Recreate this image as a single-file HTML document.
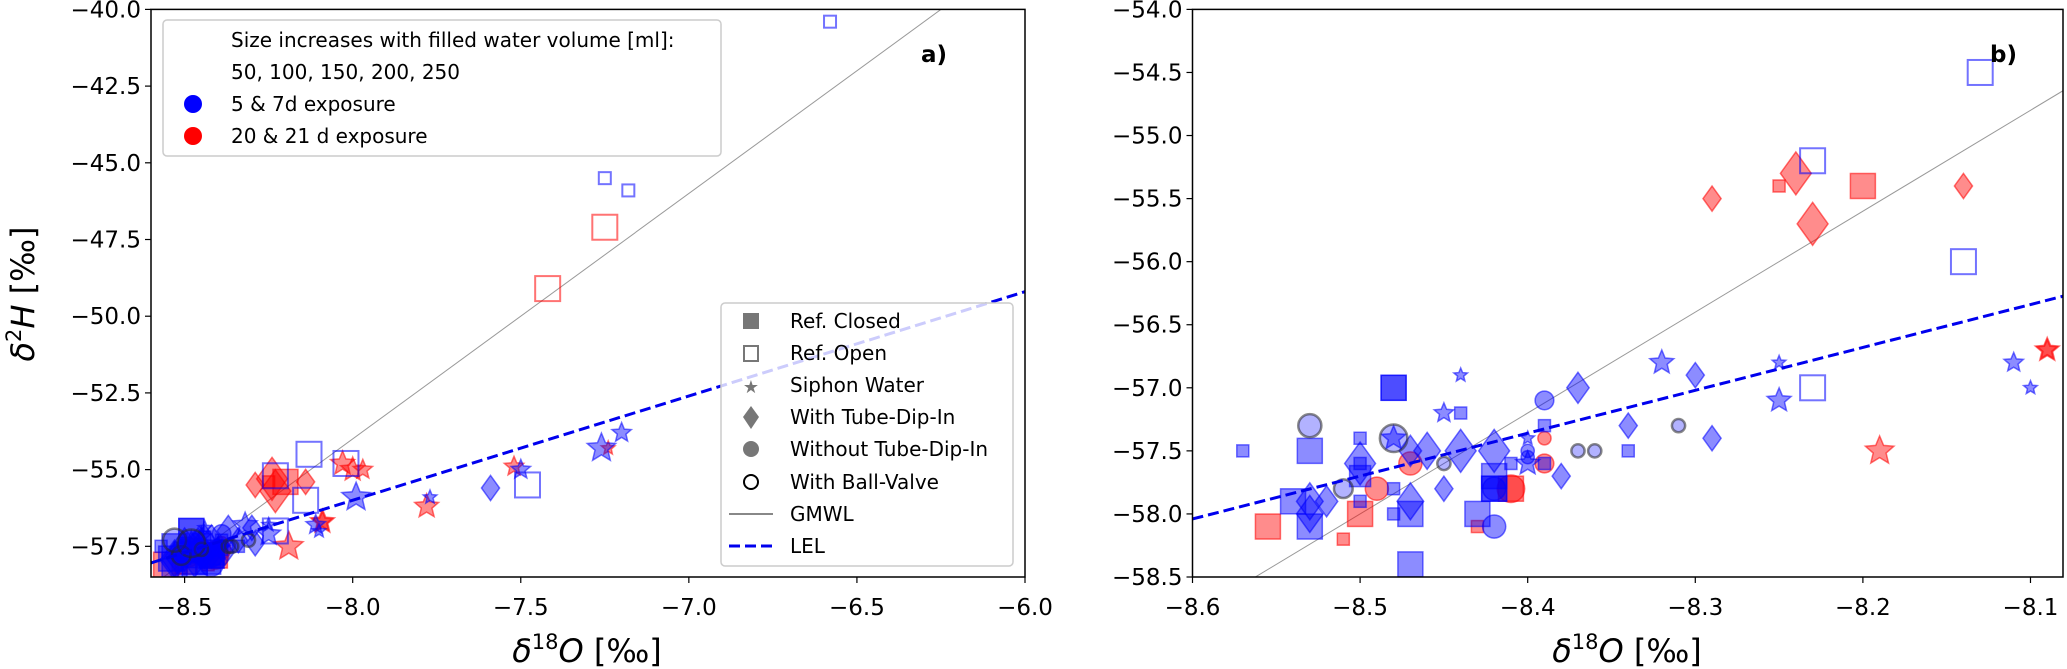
<!DOCTYPE html>
<html><head><meta charset="utf-8"><style>
html,body{margin:0;padding:0;background:#fff;}
svg{display:block;font-family:"DejaVu Sans","Liberation Sans",sans-serif;}
</style></head><body>
<svg id="chart" width="2067" height="669" viewBox="0 0 2067 669" xmlns="http://www.w3.org/2000/svg">
<defs>
<clipPath id="clipA"><rect x="151" y="9.4" width="874" height="567.6"/></clipPath>
<clipPath id="clipB"><rect x="1192.5" y="9.4" width="870.5" height="567.6"/></clipPath>
</defs>
<g id="panelA"></g>
<g id="panelB"></g>
</svg>
<script>
const ptX = [-8.24,-8.23,-8.29,-8.14,
 -8.25,-8.20,-8.555,-8.50,-8.51,-8.43,-8.41,
 -8.19,-8.09,-7.24,-7.52,-7.78,-8.03,-8.00,-7.97,-8.09,
 -8.47,-8.39,-8.39,-8.49,-8.41,
 -7.25,-7.42,
 -8.48,-8.48,-8.53,-8.57,-8.50,-8.44,-8.39,-8.34,-8.41,-8.47,-8.53,-8.54,-8.50,-8.47,-8.43,-8.42,-8.42,-8.42,-8.48,-8.50,-8.48,-8.50,-8.39,
 -8.13,-8.23,-8.14,-8.23,-6.58,-7.25,-7.18,-7.48,-8.02,
 -8.44,-8.45,-8.32,-8.25,-8.25,-8.11,-8.10,-8.48,-8.40,-8.40,-7.26,-7.20,-7.50,-7.77,-7.99,
 -8.37,-8.30,-8.34,-8.29,-8.38,-8.45,-8.44,-8.42,-8.46,-8.50,-8.47,-8.53,-8.52,-8.53,-8.47,-7.59,
 -8.39,-8.42,-8.42,-8.40,-8.40,
 -8.31,-8.37,-8.36,-8.45,-8.51,-8.53,-8.48];
const ptY = [-55.3,-55.7,-55.5,-55.4,
 -55.4,-55.4,-58.1,-58.0,-58.2,-58.1,-57.8,
 -57.5,-56.7,-54.3,-54.9,-56.2,-54.8,-55.0,-55.0,-56.7,
 -57.6,-57.4,-57.6,-57.8,-57.8,
 -47.1,-49.1,
 -57.0,-57.0,-57.5,-57.5,-57.4,-57.2,-57.3,-57.5,-57.6,-58.4,-58.1,-57.9,-57.7,-58.0,-58.0,-57.8,-57.8,-57.7,-58.0,-57.6,-57.8,-57.9,-57.6,
 -54.5,-55.2,-56.0,-57.0,-40.4,-45.5,-45.9,-55.5,-54.8,
 -56.9,-57.2,-56.8,-56.8,-57.1,-56.8,-57.0,-57.4,-57.6,-57.4,-54.3,-53.8,-55.0,-55.9,-55.9,
 -57.0,-56.9,-57.3,-57.4,-57.7,-57.8,-57.5,-57.5,-57.5,-57.6,-57.9,-57.9,-57.9,-58.0,-57.5,-55.6,
 -57.1,-57.8,-58.1,-57.5,-57.55,
 -57.3,-57.5,-57.5,-57.6,-57.8,-57.3,-57.4];
const ptShape = ['dia','dia','dia','dia',
 'sq','sq','sq','sq','sq','sq','sq',
 'star','star','star','star','star','star','star','star','star',
 'circ','circ','circ','circ','circ',
 'osq','osq',
 'sq','sq','sq','sq','sq','sq','sq','sq','sq','sq','sq','sq','sq','sq','sq','sq','sq','sq','sq','sq','sq','sq','sq',
 'osq','osq','osq','osq','osq','osq','osq','osq','osq',
 'star','star','star','star','star','star','star','star','star','star','star','star','star','star','star',
 'dia','dia','dia','dia','dia','dia','dia','dia','dia','dia','dia','dia','dia','dia','dia','dia',
 'circ','circ','circ','circ','circ',
 'bv','bv','bv','bv','bv','bv','bv'];
const ptColor = ['r','r','r','r',
 'r','r','r','r','r','r','r',
 'r','r','r','r','r','r','r','r','r',
 'r','r','r','r','r',
 'r','r',
 'b','b','b','b','b','b','b','b','b','b','b','b','b','b','b','b','b','b','b','b','b','b','b',
 'b','b','b','b','b','b','b','b','b',
 'b','b','b','b','b','b','b','b','b','b','b','b','b','b','b',
 'b','b','b','b','b','b','b','b','b','b','b','b','b','b','b','b',
 'b','b','b','b','b',
 'b','b','b','b','b','b','b'];
const ptSize = [5,5,2,2,
 1,4,4,4,1,1,4,
 4,3,1,2,3,3,3,2,2,
 3,1,2,3,4,
 4,4,
 4,4,4,1,1,1,1,1,1,4,4,4,3,4,4,4,4,4,1,1,1,1,1,
 4,4,4,4,1,1,1,4,4,
 1,2,3,1,3,2,1,3,3,1,4,2,2,1,4,
 3,2,2,2,2,2,5,5,4,5,4,4,3,4,3,2,
 2,3,3,1,1,
 1,1,1,1,2,3,4];
const ticksAX = [-8.5,-8.0,-7.5,-7.0,-6.5,-6.0];
const ticksAY = [-40.0,-42.5,-45.0,-47.5,-50.0,-52.5,-55.0,-57.5];
const ticksBX = [-8.6,-8.5,-8.4,-8.3,-8.2,-8.1];
const ticksBY = [-54.0,-54.5,-55.0,-55.5,-56.0,-56.5,-57.0,-57.5,-58.0,-58.5];
const gmwl = [8, 10];          // slope, intercept
const lel = [3.4, -58.04+3.4*8.6]; // slope, intercept

const NS='http://www.w3.org/2000/svg';
function el(tag, attrs, parent){const e=document.createElementNS(NS,tag);for(const k in attrs)e.setAttribute(k,attrs[k]);if(parent)parent.appendChild(e);return e;}
const SIDE=[0,12,17,21,25,29];
const COL={b:'0,0,255',r:'255,0,0'};

function drawPanel(g, P, clip, tx, ty){
  const X=v=>P.x0+(v-P.xmin)/(P.xmax-P.xmin)*(P.x1-P.x0);
  const Y=v=>P.y1-(v-P.ymin)/(P.ymax-P.ymin)*(P.y1-P.y0);
  const L=el('g',{'clip-path':'url(#'+clip+')'},g);
  const gl=el('line',{x1:X(P.xmin),y1:Y(gmwl[0]*P.xmin+gmwl[1]),x2:X(P.xmax),y2:Y(gmwl[0]*P.xmax+gmwl[1]),stroke:'#999','stroke-width':1},L);
  
  
  for(let i=0;i<ptX.length;i++){
    const cx=X(ptX[i]),cy=Y(ptY[i]),s=SIDE[ptSize[i]],c=COL[ptColor[i]],sh=ptShape[i];
    let m;
    const fill='rgba('+c+',0.45)',stroke='rgba('+c+',0.55)';
    if(sh==='sq'){m=el('rect',{x:cx-s/2,y:cy-s/2,width:s,height:s,fill:fill,stroke:stroke,'stroke-width':1.5},L);}
    else if(sh==='osq'){m=el('rect',{x:cx-s/2,y:cy-s/2,width:s,height:s,fill:'none',stroke:stroke,'stroke-width':2},L);}
    else if(sh==='dia'){const h=s*0.74;m=el('polygon',{points:`${cx},${cy-h} ${cx+h*0.72},${cy} ${cx},${cy+h} ${cx-h*0.72},${cy}`,fill:fill,stroke:stroke,'stroke-width':1.5},L);}
    else if(sh==='circ'){m=el('circle',{cx:cx,cy:cy,r:s*0.55,fill:fill,stroke:stroke,'stroke-width':1.5},L);}
    else if(sh==='bv'){m=el('circle',{cx:cx,cy:cy,r:s*0.55,fill:'rgba(0,0,255,0.3)',stroke:'rgba(40,40,40,0.55)','stroke-width':2.5},L);}
    else {const R=s*0.6,r=R*0.45;let pts=[];for(let k=0;k<10;k++){const a=-Math.PI/2+k*Math.PI/5,rr=k%2?r:R;pts.push((cx+rr*Math.cos(a)).toFixed(1)+','+(cy+rr*Math.sin(a)).toFixed(1));}
      m=el('polygon',{points:pts.join(' '),fill:fill,stroke:stroke,'stroke-width':1.5},L);}
    
    
  }
  const ll=el('line',{x1:X(P.xmin),y1:Y(lel[0]*P.xmin+lel[1]),x2:X(P.xmax),y2:Y(lel[0]*P.xmax+lel[1]),stroke:'#0000ee','stroke-width':3,'stroke-dasharray':'11,5'},L);
  
  
  el('rect',{x:P.x0,y:P.y0,width:P.x1-P.x0,height:P.y1-P.y0,fill:'none',stroke:'#000','stroke-width':1.5},g);
  tx.forEach(v=>{const x=X(v);el('line',{x1:x,y1:P.y1,x2:x,y2:P.y1+6,stroke:'#000','stroke-width':1.2},g);
    const t=el('text',{x:x,y:P.y1+38,'text-anchor':'middle','font-size':23},g);t.textContent=v.toFixed(1).replace('-','\u2212');
    
    });
  ty.forEach(v=>{const y=Y(v);el('line',{x1:P.x0-6,y1:y,x2:P.x0,y2:y,stroke:'#000','stroke-width':1.2},g);
    const t=el('text',{x:P.x0-10,y:y+8,'text-anchor':'end','font-size':23},g);t.textContent=v.toFixed(1).replace('-','\u2212');
    
    });
}
const gA=document.getElementById('panelA'), gB=document.getElementById('panelB');
drawPanel(gA,{x0:151,x1:1025,y0:9.4,y1:577,xmin:-8.6,xmax:-6.0,ymin:-58.5,ymax:-40},'clipA',ticksAX,ticksAY);
drawPanel(gB,{x0:1192.5,x1:2063,y0:9.4,y1:577,xmin:-8.6,xmax:-8.0806,ymin:-58.5,ymax:-54},'clipB',ticksBX,ticksBY);
</script>
<svg style="position:absolute;left:0;top:0" width="2067" height="669" xmlns="http://www.w3.org/2000/svg">
<g font-family="DejaVu Sans, Liberation Sans, sans-serif">
<text x="921" y="62" font-size="23" font-weight="bold">a)</text>
<text x="1990" y="62" font-size="23" font-weight="bold">b)</text>
<text transform="translate(34,294) rotate(-90)" text-anchor="middle" font-size="32"><tspan font-style="italic">δ</tspan><tspan font-size="21" dy="-13">2</tspan><tspan font-style="italic" dy="13">H</tspan> [‰]</text>
<text x="587" y="662" text-anchor="middle" font-size="32"><tspan font-style="italic">δ</tspan><tspan font-size="21" dy="-13">18</tspan><tspan font-style="italic" dy="13">O</tspan> [‰]</text>
<text x="1627" y="662" text-anchor="middle" font-size="32"><tspan font-style="italic">δ</tspan><tspan font-size="21" dy="-13">18</tspan><tspan font-style="italic" dy="13">O</tspan> [‰]</text>
<g>
<rect x="163" y="20" width="558" height="136" rx="4" fill="rgba(255,255,255,0.8)" stroke="#ccc" stroke-width="1.5"/>
<text x="231" y="47" font-size="20">Size increases with filled water volume [ml]:</text>
<text x="231" y="79" font-size="20">50, 100, 150, 200, 250</text>
<circle cx="193" cy="104" r="9" fill="#0000ff"/>
<text x="231" y="111" font-size="20">5 &amp; 7d exposure</text>
<circle cx="193" cy="136" r="9" fill="#ff0000"/>
<text x="231" y="143" font-size="20">20 &amp; 21 d exposure</text>
</g>
<g>
<rect x="721" y="303" width="292" height="263" rx="4" fill="rgba(255,255,255,0.8)" stroke="#ccc" stroke-width="1.5"/>
<rect x="743" y="313" width="16" height="16" fill="#777"/>
<text x="790" y="328" font-size="20">Ref. Closed</text>
<rect x="744" y="346" width="14" height="15" fill="none" stroke="#777" stroke-width="2"/>
<text x="790" y="360" font-size="20">Ref. Open</text>
<text x="751" y="393" font-size="18" text-anchor="middle" fill="#777">★</text>
<text x="790" y="392" font-size="20">Siphon Water</text>
<polygon points="751,406 759,417 751,429 743,417" fill="#777"/>
<text x="790" y="424" font-size="20">With Tube-Dip-In</text>
<circle cx="751" cy="449" r="8" fill="#777"/>
<text x="790" y="456" font-size="20">Without Tube-Dip-In</text>
<circle cx="751" cy="482" r="7" fill="none" stroke="#000" stroke-width="2"/>
<text x="790" y="489" font-size="20">With Ball-Valve</text>
<line x1="729" y1="514" x2="773" y2="514" stroke="#888" stroke-width="2"/>
<text x="790" y="521" font-size="20">GMWL</text>
<line x1="729" y1="546" x2="773" y2="546" stroke="#0000ee" stroke-width="3" stroke-dasharray="11,5"/>
<text x="790" y="553" font-size="20">LEL</text>
</g>
</g>
</svg>
</body></html>
